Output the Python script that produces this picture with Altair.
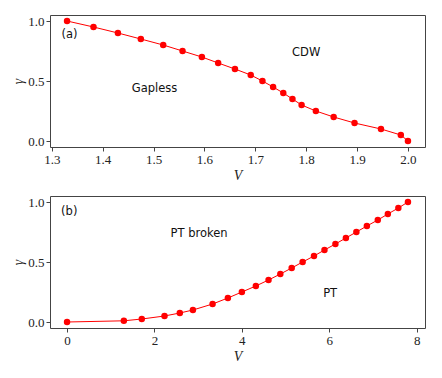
import altair as alt
import pandas as pd

# Panel (a): gamma vs V, Gapless / CDW boundary
va = [1.330, 1.382, 1.430, 1.475, 1.519, 1.557, 1.595, 1.627, 1.660, 1.691,
      1.714, 1.735, 1.755, 1.773, 1.791, 1.819, 1.854, 1.895, 1.947, 1.986, 2.0]
ga = [1.0, 0.95, 0.90, 0.85, 0.80, 0.75, 0.70, 0.65, 0.60, 0.55,
      0.50, 0.45, 0.40, 0.35, 0.30, 0.25, 0.20, 0.15, 0.10, 0.05, 0.0]

# Panel (b): gamma vs V, PT broken / PT boundary
vb = [0.0, 1.30, 1.71, 2.23, 2.58, 2.88, 3.33, 3.68, 4.00, 4.32, 4.61, 4.88,
      5.14, 5.39, 5.65, 5.89, 6.14, 6.38, 6.62, 6.86, 7.11, 7.34, 7.58, 7.80]
gb = [0.0, 0.01, 0.025, 0.05, 0.075, 0.10, 0.15, 0.20, 0.25, 0.30, 0.35, 0.40,
      0.45, 0.50, 0.55, 0.60, 0.65, 0.70, 0.75, 0.80, 0.85, 0.90, 0.95, 1.0]

ticks_a = [1.3, 1.4, 1.5, 1.6, 1.7, 1.8, 1.9, 2.0]
ticks_b = [0, 2, 4, 6, 8]
ticks_y = [0.0, 0.5, 1.0]

df_a = pd.DataFrame({"V": va, "g": ga})
df_b = pd.DataFrame({"V": vb, "g": gb})
one_row = pd.DataFrame({"k": [0]})

SERIF = "Liberation Serif"
SANS = "DejaVu Sans"
RED = "#ff0000"
W, H = 375, 132


def panel(df, xdom, xticks, xfmt, labels):
    x = alt.X("V:Q", scale=alt.Scale(domain=xdom, nice=False, zero=False),
              axis=alt.Axis(values=xticks, format=xfmt, title="V",
                            titleFontStyle="italic"))
    y = alt.Y("g:Q", scale=alt.Scale(domain=[-0.05, 1.05], nice=False, zero=False),
              axis=alt.Axis(values=ticks_y, format=".1f", title="γ",
                            titleFontStyle="italic"))
    base = alt.Chart(df)
    line = base.mark_line(color=RED, strokeWidth=1).encode(x=x, y=y)
    pts = base.mark_circle(color=RED, size=42, opacity=1).encode(x="V:Q", y="g:Q")
    layers = [line, pts]
    for (tx, ty, txt) in labels:
        layers.append(
            alt.Chart(one_row).mark_text(font=SANS, fontSize=11.5, color="#111").encode(
                x=alt.datum(tx), y=alt.datum(ty), text=alt.value(txt))
        )
    return alt.layer(*layers).properties(width=W, height=H)


pa = panel(df_a, [1.2965, 2.0335], ticks_a, ".1f",
           [(1.335, 0.88, "(a)"), (1.80, 0.733, "CDW"), (1.502, 0.433, "Gapless")])
pb = panel(df_b, [-0.39, 8.19], ticks_b, "d",
           [(0.05, 0.917, "(b)"), (3.02, 0.73, "PT broken"), (6.02, 0.233, "PT")])

chart = alt.vconcat(pa, pb, spacing=12).properties(
    padding={"left": 3, "top": 6, "right": 5, "bottom": 5}
).configure_view(
    stroke="#444", strokeWidth=1
).configure_axis(
    grid=False, domain=False, ticks=True, tickSize=4, tickColor="#444",
    labelFont=SERIF, labelFontSize=13, labelColor="#222", labelPadding=2,
    titleFont=SERIF, titleFontSize=14, titleColor="#222", titleFontWeight="normal",
    titlePadding=2,
)

chart.save("out.html", embed_options={"renderer": "svg", "actions": False})
